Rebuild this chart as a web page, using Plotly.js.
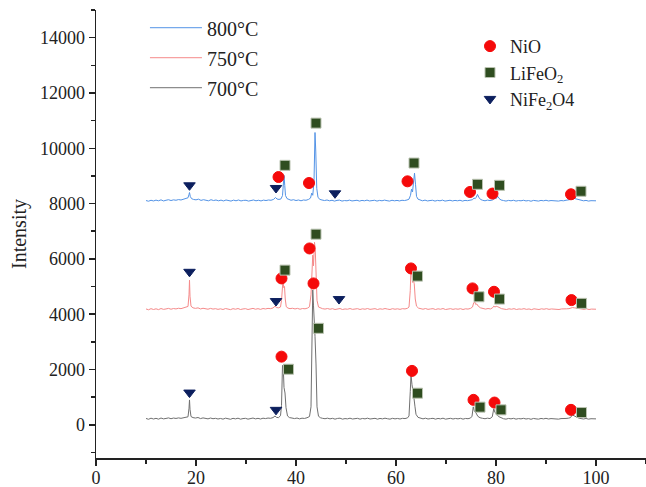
<!DOCTYPE html>
<html><head><meta charset="utf-8">
<script src="https://cdn.plot.ly/plotly-3.0.1.min.js"></script>
<style>html,body{margin:0;padding:0;background:#fff}#chart{width:646px;height:487px}</style>
</head><body><div id="chart"></div>
<script>
// XRD patterns: [2theta, intensity]
const pattern800 = [[10,8110],[10.5,8085],[11,8120],[11.5,8095],[12,8125],[12.5,8100],[13,8135],[13.5,8095],[14,8120],[14.5,8140],[15,8110],[15.5,8135],[16,8120],[16.5,8145],[17,8130],[17.5,8150],[18,8170],[18.4,8210],[18.6,8330],[18.7,8400],[18.85,8260],[19.1,8180],[19.5,8150],[20,8135],[20.5,8160],[21,8115],[21.5,8140],[22,8120],[22.5,8100],[23,8140],[23.5,8110],[24,8130],[24.5,8100],[25,8125],[25.5,8095],[26,8130],[26.5,8110],[27,8090],[27.5,8125],[28,8100],[28.5,8130],[29,8095],[29.5,8115],[30,8120],[30.5,8090],[31,8115],[31.5,8130],[32,8100],[32.5,8120],[33,8095],[33.5,8125],[34,8110],[34.5,8130],[35,8120],[35.5,8150],[35.9,8220],[36.2,8165],[36.6,8150],[37,8170],[37.3,8290],[37.45,8750],[37.6,9020],[37.75,8650],[37.9,8290],[38.2,8180],[38.6,8140],[39,8120],[39.5,8140],[40,8110],[40.5,8130],[41,8100],[41.5,8130],[42,8120],[42.5,8150],[42.9,8200],[43.15,8380],[43.35,8300],[43.6,8800],[43.8,10570],[43.95,9900],[44.15,8550],[44.4,8220],[44.8,8150],[45.2,8130],[45.7,8110],[46.2,8130],[46.7,8100],[47.2,8120],[47.7,8090],[48.2,8115],[48.7,8125],[49.2,8090],[49.7,8110],[50.2,8100],[50.7,8125],[51.2,8095],[51.7,8110],[52.2,8120],[52.7,8090],[53.2,8115],[53.7,8100],[54.2,8125],[54.7,8095],[55.2,8110],[55.7,8120],[56.2,8090],[56.7,8115],[57.2,8100],[57.7,8125],[58.2,8105],[58.7,8090],[59.2,8120],[59.7,8100],[60.2,8115],[60.7,8095],[61.2,8120],[61.7,8110],[62.2,8130],[62.6,8160],[62.9,8300],[63.1,8520],[63.3,8420],[63.5,8820],[63.7,9100],[63.9,8700],[64.1,8260],[64.4,8160],[64.8,8120],[65.3,8100],[65.8,8125],[66.3,8095],[66.8,8110],[67.3,8120],[67.8,8090],[68.3,8115],[68.8,8100],[69.3,8125],[69.8,8090],[70.3,8110],[70.8,8120],[71.3,8095],[71.8,8115],[72.3,8100],[72.8,8120],[73.3,8090],[73.8,8115],[74.3,8105],[74.8,8130],[75.3,8140],[75.6,8200],[75.85,8180],[76.05,8230],[76.3,8330],[76.55,8230],[76.9,8150],[77.3,8120],[77.8,8100],[78.3,8125],[78.8,8110],[79.3,8130],[79.6,8170],[79.85,8200],[80.05,8180],[80.3,8270],[80.6,8190],[81,8130],[81.5,8110],[82,8090],[82.5,8115],[83,8100],[83.5,8120],[84,8090],[84.5,8110],[85,8100],[85.5,8120],[86,8095],[86.5,8110],[87,8085],[87.5,8115],[88,8100],[88.5,8090],[89,8115],[89.5,8100],[90,8120],[90.5,8095],[91,8110],[91.5,8100],[92,8115],[92.5,8090],[93,8110],[93.5,8100],[94,8120],[94.5,8130],[95,8150],[95.3,8180],[95.6,8195],[96,8170],[96.5,8140],[97,8110],[97.5,8100],[98,8115],[98.5,8090],[99,8105],[99.5,8095],[100,8100]];

const pattern750 = [[10,4190],[10.5,4160],[11,4200],[11.5,4170],[12,4195],[12.5,4165],[13,4205],[13.5,4175],[14,4190],[14.5,4210],[15,4180],[15.5,4205],[16,4190],[16.5,4215],[17,4200],[17.5,4220],[18,4240],[18.4,4280],[18.6,4700],[18.7,5230],[18.8,4650],[19.0,4290],[19.4,4230],[19.9,4210],[20.4,4230],[20.9,4190],[21.4,4215],[21.9,4195],[22.4,4180],[22.9,4210],[23.4,4185],[23.9,4200],[24.4,4175],[24.9,4195],[25.4,4170],[25.9,4205],[26.4,4185],[26.9,4165],[27.4,4200],[27.9,4180],[28.4,4205],[28.9,4170],[29.4,4190],[29.9,4200],[30.4,4170],[30.9,4190],[31.4,4210],[31.9,4180],[32.4,4200],[32.9,4175],[33.4,4205],[33.9,4190],[34.4,4210],[34.9,4200],[35.4,4225],[35.8,4290],[36.1,4240],[36.5,4230],[36.9,4260],[37.1,4500],[37.25,5050],[37.4,5230],[37.55,4960],[37.7,5000],[37.85,4550],[38.05,4270],[38.4,4220],[38.8,4200],[39.3,4215],[39.8,4190],[40.3,4210],[40.8,4180],[41.3,4205],[41.8,4195],[42.3,4220],[42.7,4270],[43.0,4700],[43.2,6050],[43.35,6135],[43.5,5750],[43.7,6600],[43.85,6350],[44.0,5150],[44.2,4500],[44.5,4260],[44.9,4220],[45.3,4200],[45.8,4185],[46.3,4205],[46.8,4180],[47.3,4200],[47.8,4170],[48.3,4195],[48.8,4205],[49.3,4170],[49.8,4190],[50.3,4180],[50.8,4205],[51.3,4175],[51.8,4190],[52.3,4200],[52.8,4170],[53.3,4195],[53.8,4180],[54.3,4205],[54.8,4175],[55.3,4190],[55.8,4200],[56.3,4170],[56.8,4195],[57.3,4180],[57.8,4205],[58.3,4185],[58.8,4170],[59.3,4200],[59.8,4180],[60.3,4195],[60.8,4175],[61.3,4200],[61.8,4190],[62.3,4215],[62.6,4260],[62.85,4850],[63.0,5650],[63.15,5550],[63.3,5150],[63.5,5200],[63.65,5100],[63.85,4550],[64.1,4290],[64.5,4220],[64.9,4200],[65.4,4180],[65.9,4205],[66.4,4175],[66.9,4190],[67.4,4200],[67.9,4170],[68.4,4195],[68.9,4180],[69.4,4205],[69.9,4170],[70.4,4190],[70.9,4200],[71.4,4175],[71.9,4195],[72.4,4180],[72.9,4200],[73.4,4170],[73.9,4195],[74.4,4185],[74.9,4210],[75.3,4260],[75.55,4420],[75.75,4440],[75.95,4350],[76.15,4370],[76.45,4290],[76.9,4230],[77.4,4200],[77.9,4185],[78.4,4205],[78.9,4190],[79.3,4230],[79.55,4290],[79.8,4260],[80.05,4285],[80.35,4270],[80.7,4225],[81.1,4200],[81.6,4185],[82.1,4170],[82.6,4195],[83.1,4180],[83.6,4200],[84.1,4170],[84.6,4190],[85.1,4180],[85.6,4200],[86.1,4175],[86.6,4190],[87.1,4165],[87.6,4195],[88.1,4180],[88.6,4170],[89.1,4195],[89.6,4180],[90.1,4200],[90.6,4175],[91.1,4190],[91.6,4180],[92.1,4195],[92.6,4170],[93.1,4190],[93.6,4180],[94.1,4195],[94.6,4200],[95.0,4225],[95.3,4240],[95.7,4230],[96.1,4215],[96.6,4205],[97.1,4185],[97.6,4175],[98.1,4195],[98.6,4170],[99.1,4185],[99.6,4175],[100,4180]];

const pattern700 = [[10,230],[10.5,200],[11,240],[11.5,210],[12,235],[12.5,205],[13,245],[13.5,215],[14,230],[14.5,250],[15,220],[15.5,245],[16,230],[16.5,250],[17,235],[17.5,255],[18,265],[18.4,290],[18.6,600],[18.7,900],[18.8,560],[19.0,300],[19.4,260],[19.9,245],[20.4,265],[20.9,225],[21.4,250],[21.9,230],[22.4,215],[22.9,245],[23.4,220],[23.9,235],[24.4,210],[24.9,230],[25.4,205],[25.9,240],[26.4,220],[26.9,200],[27.4,235],[27.9,215],[28.4,240],[28.9,205],[29.4,225],[29.9,235],[30.4,205],[30.9,225],[31.4,245],[31.9,215],[32.4,235],[32.9,210],[33.4,240],[33.9,225],[34.4,245],[34.9,235],[35.4,260],[35.8,320],[36.1,270],[36.5,260],[36.9,330],[37.1,700],[37.3,2150],[37.45,2080],[37.6,1350],[37.8,1150],[38.0,620],[38.3,320],[38.7,260],[39.2,245],[39.7,225],[40.2,245],[40.7,215],[41.2,240],[41.7,230],[42.2,255],[42.7,300],[43.0,650],[43.2,3000],[43.35,4880],[43.5,4300],[43.65,3350],[43.8,3200],[44.0,2200],[44.2,650],[44.5,310],[44.9,255],[45.3,235],[45.8,220],[46.3,240],[46.8,215],[47.3,235],[47.8,205],[48.3,230],[48.8,240],[49.3,205],[49.8,225],[50.3,215],[50.8,240],[51.3,210],[51.8,225],[52.3,235],[52.8,205],[53.3,230],[53.8,215],[54.3,240],[54.8,210],[55.3,225],[55.8,235],[56.3,205],[56.8,230],[57.3,215],[57.8,240],[58.3,220],[58.8,205],[59.3,235],[59.8,215],[60.3,230],[60.8,210],[61.3,235],[61.8,225],[62.3,250],[62.6,320],[62.85,1200],[63.0,1800],[63.2,1450],[63.4,1050],[63.6,950],[63.8,650],[64.0,380],[64.4,270],[64.9,235],[65.4,215],[65.9,240],[66.4,210],[66.9,225],[67.4,235],[67.9,205],[68.4,230],[68.9,215],[69.4,240],[69.9,205],[70.4,225],[70.9,235],[71.4,210],[71.9,230],[72.4,215],[72.9,235],[73.4,205],[73.9,230],[74.4,220],[74.9,245],[75.2,310],[75.45,650],[75.7,480],[76.0,430],[76.35,310],[76.8,255],[77.3,235],[77.8,220],[78.3,240],[78.8,225],[79.25,290],[79.55,580],[79.8,440],[80.1,400],[80.5,300],[81.0,245],[81.5,220],[82,205],[82.5,230],[83,215],[83.5,235],[84,205],[84.5,225],[85,215],[85.5,235],[86,210],[86.5,225],[87,200],[87.5,230],[88,215],[88.5,205],[89,230],[89.5,215],[90,235],[90.5,210],[91,225],[91.5,215],[92,230],[92.5,205],[93,225],[93.5,215],[94,230],[94.5,240],[94.9,260],[95.25,360],[95.6,320],[96.0,275],[96.5,245],[97,225],[97.5,210],[98,230],[98.5,205],[99,220],[99.5,210],[100,215]];

// Phase markers
const nioX = [36.5, 42.6, 62.3, 74.8, 79.3, 95.0, 37.1, 42.7, 63.0, 75.3, 79.6, 95.1, 37.1, 43.5, 63.2, 75.5, 79.7, 95.0];
const nioY = [8960, 8744, 8805, 8420, 8362, 8336, 5294, 6377, 5655, 4933, 4811, 4511, 2465, 5113, 1950, 902, 805, 541];
const lfoX = [37.8, 44.0, 63.6, 76.3, 80.7, 97.0, 37.8, 44.0, 64.3, 76.6, 80.7, 97.1, 38.5, 44.5, 64.3, 76.8, 81.0, 97.1];
const lfoY = [9383, 10910, 9466, 8697, 8661, 8445, 5594, 6893, 5377, 4630, 4547, 4392, 2010, 3490, 1144, 639, 541, 444];
const nfoX = [18.7, 36.0, 47.8, 18.7, 36.0, 48.6, 18.7, 36.0];
const nfoY = [8661, 8564, 8372, 5533, 4475, 4547, 1166, 541];

const seriesNames = ['800°C', '750°C', '700°C'];
const phaseNames = ['NiO', 'LiFeO<sub>2</sub>', 'NiFe<sub>2</sub>O4'];
const xTicks = [0, 20, 40, 60, 80, 100];
const yTicks = [0, 2000, 4000, 6000, 8000, 10000, 12000, 14000];

const FONT = '"Liberation Serif", "Times New Roman", serif';
const INK = '#222';

function lineTrace(p, name, color, grp) {
  return {type: 'scatter', mode: 'lines', name: name,
    x: p.map(d => d[0]), y: p.map(d => d[1]),
    line: {color: color, width: 1}, legend: 'legend', legendgroup: grp, hoverinfo: 'skip'};
}
function markTrace(x, y, name, symbol, color, size, lineColor) {
  return {type: 'scatter', mode: 'markers', name: name, x: x, y: y,
    marker: {symbol: symbol, color: color, size: size, line: {color: lineColor, width: 1}},
    legend: 'legend2', legendgroup: name, hoverinfo: 'skip'};
}

const data = [
  lineTrace(pattern800, seriesNames[0], '#5393e6', 'a'),
  lineTrace(pattern750, seriesNames[1], '#f58a8a', 'b'),
  lineTrace(pattern700, seriesNames[2], '#707070', 'c'),
  markTrace(nioX, nioY, phaseNames[0], 'circle', '#f50a0a', 11, '#f50a0a'),
  markTrace(lfoX, lfoY, phaseNames[1], 'square', '#2f4d20', 10, '#b9c2b0'),
  markTrace(nfoX, nfoY, phaseNames[2], 'triangle-down', '#0c1f5e', 10, '#0c1f5e')
];

const axisCommon = {
  showline: true, linecolor: INK, linewidth: 1.5, mirror: false,
  ticks: 'outside', ticklen: 6, tickwidth: 1.5, tickcolor: INK,
  showgrid: false, zeroline: false,
  tickfont: {family: FONT, size: 18, color: INK}
};

const layout = {
  width: 646, height: 487,
  margin: {l: 96, r: 0, t: 10, b: 29},
  paper_bgcolor: '#fff', plot_bgcolor: '#fff',
  font: {family: FONT, size: 18, color: INK},
  showlegend: true,
  xaxis: Object.assign({}, axisCommon, {
    range: [0, 110], tickvals: xTicks, ticklabelstandoff: -3,
    minor: {dtick: 10, tick0: 0, ticks: 'outside', ticklen: 4, tickwidth: 1.5, tickcolor: INK}
  }),
  yaxis: Object.assign({}, axisCommon, {
    range: [-1200, 15000], tickvals: yTicks, tickformat: 'd',
    minor: {dtick: 1000, tick0: 0, ticks: 'outside', ticklen: 4, tickwidth: 1.5, tickcolor: INK},
    title: {text: 'Intensity', font: {family: FONT, size: 20, color: INK}, standoff: 8}
  }),
  legend: {x: 0.089, y: 1.004, xanchor: 'left', yanchor: 'top',
    bgcolor: 'rgba(0,0,0,0)', borderwidth: 0, itemwidth: 52,
    font: {family: FONT, size: 20, color: INK},
    traceorder: 'grouped', tracegroupgap: 1},
  legend2: {x: 0.68, y: 0.96, xanchor: 'left', yanchor: 'top',
    bgcolor: 'rgba(0,0,0,0)', borderwidth: 0,
    font: {family: FONT, size: 18, color: INK},
    traceorder: 'normal'}
};

Plotly.newPlot('chart', data, layout, {displayModeBar: false, staticPlot: true});
</script>
</body></html>
